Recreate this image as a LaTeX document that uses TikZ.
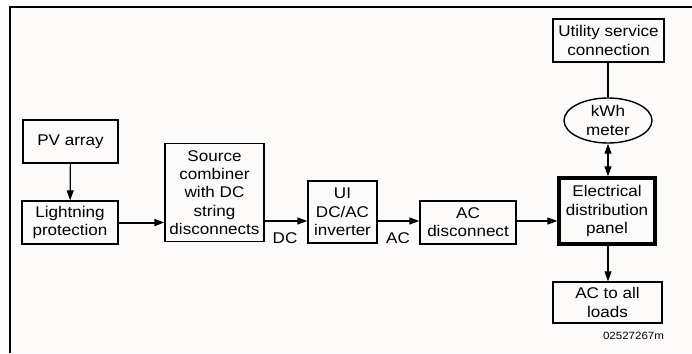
\documentclass[tikz,border=0pt]{standalone}
\usepackage{fontspec}
\setmainfont[FakeStretch=1.1]{Liberation Sans}
\usetikzlibrary{arrows.meta,shapes.geometric}
\definecolor{bgpink}{HTML}{FDFAFA}
\begin{document}
\begin{tikzpicture}[x=1pt,y=-1pt,
  box/.style={draw, line width=1.4pt, inner sep=0pt, align=center,
    font=\fontsize{15.5}{18.3}\selectfont},
  link/.style={line width=1.2pt, -{Triangle[length=10pt,width=7pt]}},
  lbl/.style={inner sep=0pt, font=\fontsize{15.5}{18.3}\selectfont}]
\useasboundingbox (0,0) rectangle (692,353);
\fill[bgpink] (10,7) rectangle (692,353);
\draw[line width=1.5pt] (10,353) -- (10,7) -- (692,7);
\node[box, minimum width=95, minimum height=43] (pv) at (70.5,141.5) {PV array};
\node[box, minimum width=96, minimum height=43] (lp) at (70,222.5) {Lightning\\protection};
\node[box, minimum width=99, minimum height=98] (sc) at (214.5,192.5) {Source\\combiner\\with DC\\string\\disconnects};
\node[box, minimum width=69, minimum height=62] (ui) at (342.5,212) {UI\\DC/AC\\inverter};
\node[box, minimum width=96, minimum height=43] (acd) at (468,222.5) {AC\\disconnect};
\node[box, line width=3.2pt, minimum width=96, minimum height=66] (edp) at (607,211) {Electrical\\distribution\\panel};
\node[box, minimum width=109, minimum height=41] (load) at (607.5,302.5) {AC to all\\loads};
\node[box, minimum width=111, minimum height=43] (util) at (608.5,40.5) {Utility service\\connection};
\node[box, ellipse, minimum width=88, minimum height=45] (kwh) at (608,120.5) {kWh\\meter};
\node[lbl] (dc) at (285,238) {DC};
\node[lbl] (ac) at (398,238) {AC};
\node[inner sep=0pt, font=\fontsize{10.5}{12}\selectfont] (code) at (633.5,336) {02527267m};
\draw[link] (pv) -- (lp);
\draw[link, line width=2pt] (lp) -- (sc.west |- lp);
\draw[link] (sc.east |- 0,221) -- (ui.west |- 0,221);
\draw[link] (ui.east |- 0,221) -- (acd.west |- 0,221);
\draw[link] (acd.east |- 0,221) -- (edp.west |- 0,221);
\draw[link] (edp.south -| kwh) -- (load.north -| kwh);
\draw[line width=1.2pt, {Triangle[length=10pt,width=7pt]}-{Triangle[length=10pt,width=7pt]}] (kwh) -- (edp.north -| kwh);
\draw[line width=1.4pt] (util.south -| kwh) -- (kwh);
\end{tikzpicture}
\end{document}
